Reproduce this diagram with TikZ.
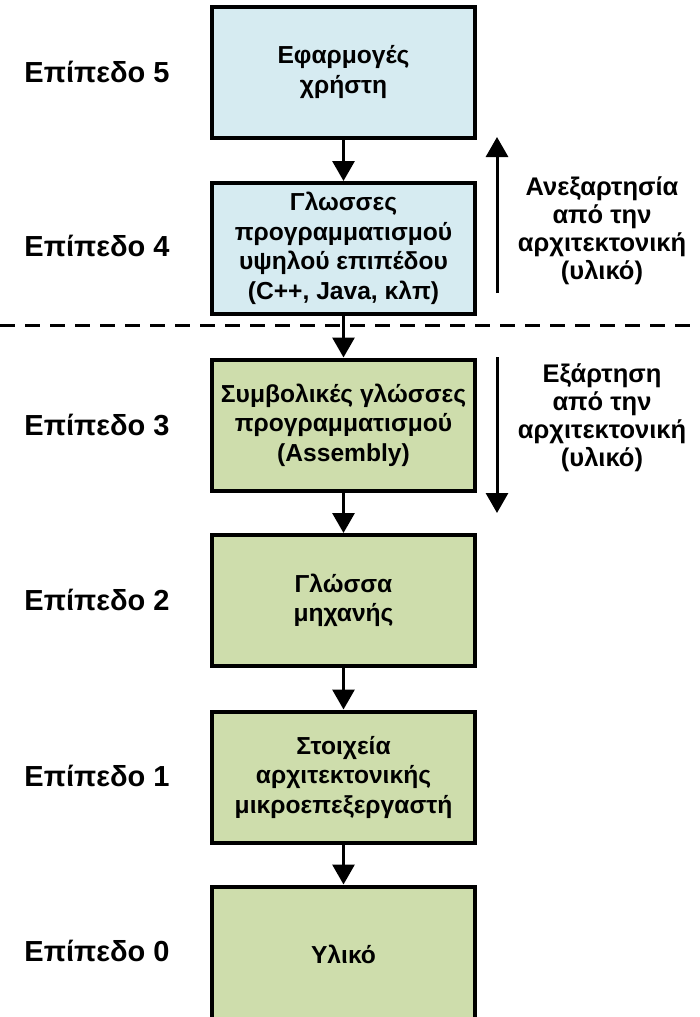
\documentclass[tikz,border=0pt]{standalone}
\usepackage{fontspec}
\setmainfont{Liberation Sans}
\usetikzlibrary{arrows.meta}
\definecolor{boxblue}{HTML}{D6EBF1}
\definecolor{boxgreen}{HTML}{CEDDAC}
\tikzset{
  lvl/.style={draw=black, line width=4pt, minimum width=263pt, minimum height=131pt, align=center, inner sep=0pt, font=\fontsize{24.6}{29.5}\selectfont\bfseries},
  bluebox/.style={lvl, fill=boxblue},
  greenbox/.style={lvl, fill=boxgreen},
  lbl/.style={font=\fontsize{29}{33}\selectfont\bfseries, inner sep=0pt},
  side/.style={align=center, font=\fontsize{25.5}{28}\selectfont\bfseries, inner sep=0pt},
  conn/.style={line width=3pt, -{Triangle[length=20pt,width=22pt]}},
}
\begin{document}
\begin{tikzpicture}[x=1pt,y=-1pt]
\useasboundingbox (0,0) rectangle (700,1017);
\begin{scope}
\clip (0,0) rectangle (700,1017);
\node[bluebox] (b5) at (343.5,72) {Εφαρμογές\\χρήστη};
\node[bluebox] (b4) at (343.5,248.5) {Γλωσσες\\προγραμματισμού\\υψηλού επιπέδου\\(C++, Java, κλπ)};
\node[greenbox] (b3) at (343.5,425) {Συμβολικές γλώσσες\\προγραμματισμού\\(Assembly)};
\node[greenbox] (b2) at (343.5,600.5) {Γλώσσα\\μηχανής};
\node[greenbox] (b1) at (343.5,777) {Στοιχεία\\αρχιτεκτονικής\\μικροεπεξεργαστή};
\node[greenbox, minimum height=135pt] (b0) at (343.5,954) {Υλικό};
\end{scope}

\node[lbl] (l5) at (97,72) {Επίπεδο 5};
\node[lbl] (l4) at (97,246) {Επίπεδο 4};
\node[lbl] (l3) at (97,425) {Επίπεδο 3};
\node[lbl] (l2) at (97,600) {Επίπεδο 2};
\node[lbl] (l1) at (97,776) {Επίπεδο 1};
\node[lbl] (l0) at (97,951) {Επίπεδο 0};

\coordinate (dl) at (0,325);
\coordinate (dr) at (700,325);
\draw[line width=3pt, dash pattern=on 15pt off 10pt] (dl) -- (dr);

\draw[conn] (b5.south) -- (b4.north);
\draw[conn] (b4.south) -- (b3.north);
\draw[conn] (b3.south) -- (b2.north);
\draw[conn] (b2.south) -- (b1.north);
\draw[conn] (b1.south) -- (b0.north);

\coordinate (ua) at (497,293);
\coordinate (ub) at (497,137);
\coordinate (da) at (497,357);
\coordinate (db) at (497,513);
\draw[conn] (ua) -- (ub);
\draw[conn] (da) -- (db);

\node[side] (t1) at (602,231) {Ανεξαρτησία\\από την\\αρχιτεκτονική\\(υλικό)};
\node[side] (t2) at (602,418) {Εξάρτηση\\από την\\αρχιτεκτονική\\(υλικό)};
\end{tikzpicture}
\end{document}
